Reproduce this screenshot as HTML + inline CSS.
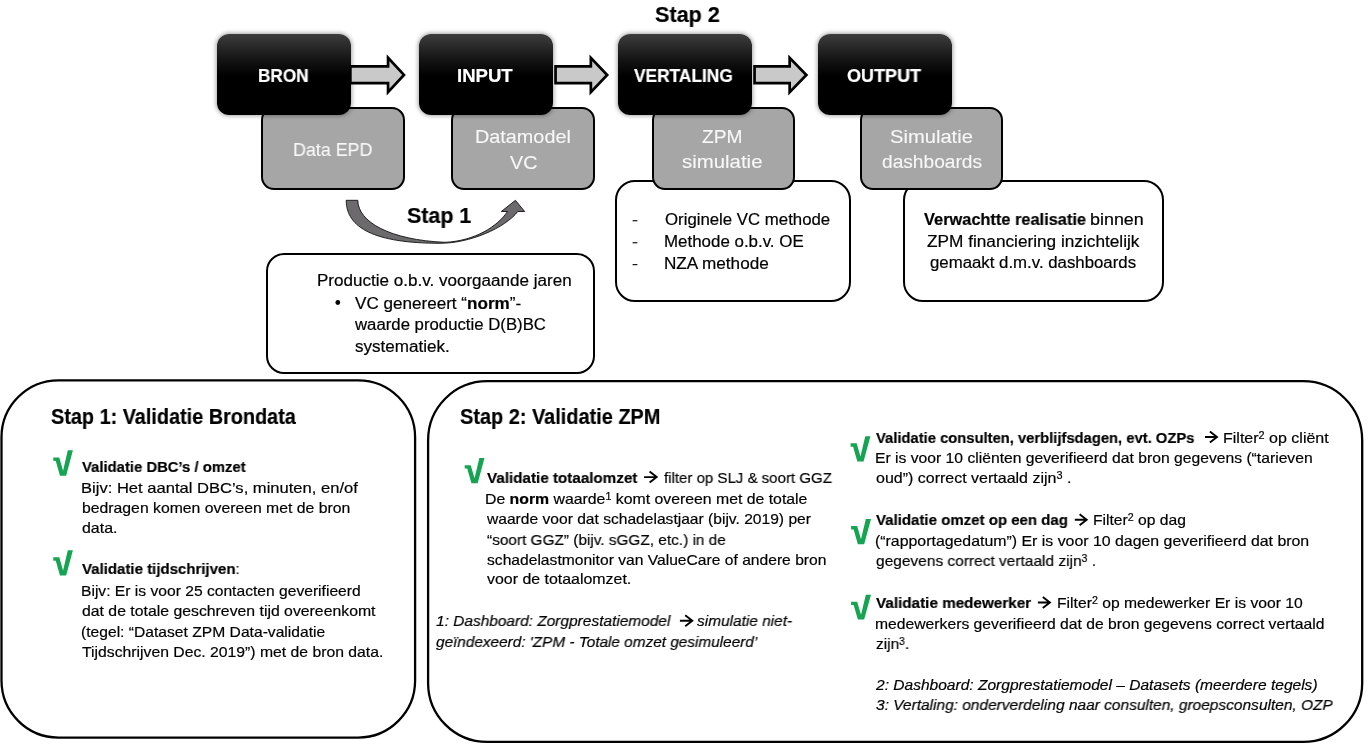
<!DOCTYPE html><html><head><meta charset="utf-8"><style>
*{margin:0;padding:0;box-sizing:border-box}
html,body{width:1368px;height:752px;overflow:hidden;background:#fff}
body{position:relative;font-family:"Liberation Sans",sans-serif;color:#000}
.t{position:absolute;white-space:nowrap;line-height:1;transform-origin:0 0;will-change:transform;-webkit-text-stroke:0.2px currentColor}
.b{font-weight:bold}
.i{font-style:italic}
.w{color:#fff}
.g{color:#f8f8f8;-webkit-text-stroke:0.1px currentColor}
.t b{font-weight:bold}
.t sup{font-size:68%;vertical-align:0;position:relative;top:-0.36em;line-height:0}
.bx{position:absolute;border-radius:12px;background:linear-gradient(#3d3d3d 0%,#161616 30%,#000 52%,#000 100%);box-shadow:0 0 4px 1px rgba(0,0,0,.35)}
.gb{position:absolute;border-radius:13px;background:#a6a6a6;border:2.2px solid #000}
.wb{position:absolute;background:#fff;border:2.2px solid #000}
svg{position:absolute;left:0;top:0}
</style></head><body>
<svg class="shape" width="1368" height="752" viewBox="0 0 1368 752">
<rect x="1.5" y="380.3" width="413.6" height="357.3" rx="57" ry="57" fill="none" stroke="#000" stroke-width="2.3"/>
<rect x="428.1" y="381.2" width="934.1" height="360.7" rx="59" ry="59" fill="none" stroke="#000" stroke-width="2.3"/>
<path d="M346.2,200.3 L357.8,200.3 C358,222 390,240 445,242.3 C475,241 498,226 507.5,211.5 L501.3,211.5 L515.4,200.3 L524.7,211.5 L517.8,211.5 C505,228 470,243.3 440,243.3 C375,243.3 346.2,228 346.2,200.3 Z" fill="#6c6a6c" stroke="#111" stroke-width="0.9"/>
</svg>
<div class="wb shape" style="left:266px;top:252.6px;width:329px;height:121px;border-radius:18px"></div>
<div class="wb shape" style="left:615px;top:180px;width:235.5px;height:122px;border-radius:20px"></div>
<div class="wb shape" style="left:903px;top:179.6px;width:260.5px;height:122.4px;border-radius:20px"></div>
<div class="gb shape" style="left:261px;top:107px;width:143.8px;height:83px"></div>
<div class="gb shape" style="left:451px;top:107px;width:143.8px;height:83px"></div>
<div class="gb shape" style="left:651.5px;top:107px;width:143.8px;height:83px"></div>
<div class="gb shape" style="left:859.7px;top:107px;width:143.8px;height:83px"></div>
<div class="bx shape" style="left:217px;top:34.3px;width:133.8px;height:80.4px"></div>
<div class="bx shape" style="left:419px;top:34.3px;width:133.8px;height:80.4px"></div>
<div class="bx shape" style="left:618.2px;top:34.3px;width:133.8px;height:80.4px"></div>
<div class="bx shape" style="left:818.2px;top:34.3px;width:133.8px;height:80.4px"></div>
<svg class="shape" width="1368" height="752" viewBox="0 0 1368 752">
<polygon points="350.35,66.35 388.05,66.35 388.05,57.80 403.98,74.95 388.05,92.10 388.05,83.15 350.35,83.15" fill="#c9c9c9" stroke="#000" stroke-width="2.7" stroke-linejoin="miter"/>
<polygon points="555.55,66.35 590.85,66.35 590.85,57.80 607.18,74.95 590.85,92.10 590.85,83.15 555.55,83.15" fill="#c9c9c9" stroke="#000" stroke-width="2.7" stroke-linejoin="miter"/>
<polygon points="754.55,66.35 789.65,66.35 789.65,57.80 806.38,74.95 789.65,92.10 789.65,83.15 754.55,83.15" fill="#c9c9c9" stroke="#000" stroke-width="2.7" stroke-linejoin="miter"/>
<polygon points="53.30,457.40 59.27,457.40 63.05,470.70 67.83,450.30 72.90,450.30 66.13,475.70 59.97,475.70 55.79,460.90 53.30,460.80" fill="#15a452"/>
<polygon points="53.30,557.27 59.27,557.27 63.05,570.52 67.83,550.20 72.90,550.20 66.13,575.50 59.97,575.50 55.79,560.76 53.30,560.66" fill="#15a452"/>
<polygon points="464.70,465.14 470.73,465.14 474.55,478.34 479.37,458.10 484.50,458.10 477.67,483.30 471.43,483.30 467.21,468.62 464.70,468.52" fill="#15a452"/>
<polygon points="850.60,443.27 856.63,443.27 860.45,456.52 865.27,436.20 870.40,436.20 863.57,461.50 857.33,461.50 853.11,446.76 850.60,446.66" fill="#15a452"/>
<polygon points="851.10,526.00 857.16,526.00 861.00,539.30 865.85,518.90 871.00,518.90 864.13,544.30 857.87,544.30 853.63,529.50 851.10,529.40" fill="#15a452"/>
<polygon points="851.10,601.70 857.16,601.70 861.00,614.64 865.85,594.79 871.00,594.79 864.13,619.50 857.87,619.50 853.63,605.10 851.10,605.01" fill="#15a452"/>
<path d="M644.10,477.10 H656.40 M649.60,471.60 L656.70,477.10 L649.60,482.60" stroke="#000" stroke-width="1.9" fill="none"/>
<path d="M679.90,620.70 H692.00 M685.20,615.20 L692.30,620.70 L685.20,626.20" stroke="#000" stroke-width="1.9" fill="none"/>
<path d="M1205.00,437.00 H1216.70 M1209.90,431.50 L1217.00,437.00 L1209.90,442.50" stroke="#000" stroke-width="1.9" fill="none"/>
<path d="M1074.80,519.70 H1086.40 M1079.60,514.20 L1086.70,519.70 L1079.60,525.20" stroke="#000" stroke-width="1.9" fill="none"/>
<path d="M1037.90,602.50 H1049.60 M1042.80,597.00 L1049.90,602.50 L1042.80,608.00" stroke="#000" stroke-width="1.9" fill="none"/>
<circle cx="337.8" cy="302.5" r="2.4" fill="#000"/>
<rect x="632.6" y="220.2" width="4.8" height="1.1" fill="#000"/>
<rect x="632.6" y="242.2" width="4.8" height="1.1" fill="#000"/>
<rect x="632.6" y="264.1" width="4.8" height="1.1" fill="#000"/>
</svg>
<div class="t b" id="t0" style="left:654.73px;top:3.61px;font-size:22.38px;transform:scaleX(0.9644)">Stap 2</div>
<div class="t b w" id="t1" style="left:258.21px;top:66.62px;font-size:18.17px;transform:scaleX(0.9474)">BRON</div>
<div class="t b w" id="t2" style="left:457.26px;top:66.62px;font-size:18.17px;transform:scaleX(1.0227)">INPUT</div>
<div class="t b w" id="t3" style="left:634.31px;top:66.62px;font-size:18.17px;transform:scaleX(0.9534)">VERTALING</div>
<div class="t b w" id="t4" style="left:846.80px;top:66.62px;font-size:18.17px;transform:scaleX(0.9921)">OUTPUT</div>
<div class="t g" id="t5" style="left:293.15px;top:140.66px;font-size:18.6px;transform:scaleX(0.9606)">Data EPD</div>
<div class="t g" id="t6" style="left:474.92px;top:127.60px;font-size:18.31px;transform:scaleX(1.0829)">Datamodel</div>
<div class="t g" id="t7" style="left:509.52px;top:153.70px;font-size:18.31px;transform:scaleX(1.0784)">VC</div>
<div class="t g" id="t8" style="left:701.80px;top:127.55px;font-size:18.31px;transform:scaleX(1.0480)">ZPM</div>
<div class="t g" id="t9" style="left:682.04px;top:152.80px;font-size:18.31px;transform:scaleX(1.1146)">simulatie</div>
<div class="t g" id="t10" style="left:890.26px;top:127.55px;font-size:18.31px;transform:scaleX(1.1018)">Simulatie</div>
<div class="t g" id="t11" style="left:882.48px;top:152.80px;font-size:18.31px;transform:scaleX(1.0464)">dashboards</div>
<div class="t b" id="t12" style="left:406.69px;top:204.50px;font-size:21.8px;transform:scaleX(0.9820)">Stap 1</div>
<div class="t " id="t13" style="left:317.18px;top:272.00px;font-size:16.42px;transform:scaleX(1.0392)">Productie o.b.v. voorgaande jaren</div>
<div class="t " id="t14" style="left:354.71px;top:294.80px;font-size:16.42px;transform:scaleX(1.0413)">VC genereert “<b>norm</b>”-</div>
<div class="t " id="t15" style="left:354.70px;top:316.40px;font-size:16.42px;transform:scaleX(1.0214)">waarde productie D(B)BC</div>
<div class="t " id="t16" style="left:354.70px;top:337.90px;font-size:16.42px;transform:scaleX(1.0398)">systematiek.</div>
<div class="t " id="t17" style="left:665.19px;top:211.52px;font-size:16.57px;transform:scaleX(1.0135)">Originele VC methode</div>
<div class="t " id="t18" style="left:664.19px;top:233.52px;font-size:16.57px;transform:scaleX(1.0206)">Methode o.b.v. OE</div>
<div class="t " id="t19" style="left:664.18px;top:255.67px;font-size:16.57px;transform:scaleX(1.0339)">NZA methode</div>
<div class="t b" id="t20" style="left:924.20px;top:211.40px;font-size:16.42px;transform:scaleX(0.9976)">Verwachtte realisatie</div>
<div class="t " id="t21" style="left:1089.96px;top:211.40px;font-size:16.42px;transform:scaleX(1.0912)">binnen</div>
<div class="t " id="t22" style="left:927.19px;top:232.80px;font-size:16.42px;transform:scaleX(1.0495)">ZPM financiering inzichtelijk</div>
<div class="t " id="t23" style="left:930.00px;top:254.30px;font-size:16.42px;transform:scaleX(1.0239)">gemaakt d.m.v. dashboards</div>
<div class="t b" id="t24" style="left:50.63px;top:405.74px;font-size:21.22px;transform:scaleX(0.9351)">Stap 1: Validatie Brondata</div>
<div class="t b" id="t25" style="left:81.58px;top:458.64px;font-size:15.55px;transform:scaleX(0.9547)">Validatie DBC’s / omzet</div>
<div class="t " id="t26" style="left:80.56px;top:479.64px;font-size:15.55px;transform:scaleX(1.0654)">Bijv: Het aantal DBC’s, minuten, en/of</div>
<div class="t " id="t27" style="left:81.58px;top:500.14px;font-size:15.55px;transform:scaleX(1.0144)">bedragen komen overeen met de bron</div>
<div class="t " id="t28" style="left:81.55px;top:519.94px;font-size:15.55px;transform:scaleX(1.0252)">data.</div>
<div class="t " id="t29" style="left:81.58px;top:561.04px;font-size:15.55px;transform:scaleX(0.9657)"><b>Validatie tijdschrijven</b>:</div>
<div class="t " id="t30" style="left:80.59px;top:582.84px;font-size:15.55px;transform:scaleX(1.0051)">Bijv: Er is voor 25 contacten geverifieerd</div>
<div class="t " id="t31" style="left:81.59px;top:603.14px;font-size:15.55px;transform:scaleX(1.0167)">dat de totale geschreven tijd overeenkomt</div>
<div class="t " id="t32" style="left:80.59px;top:623.64px;font-size:15.55px;transform:scaleX(1.0058)">(tegel: “Dataset ZPM Data-validatie</div>
<div class="t " id="t33" style="left:81.59px;top:643.69px;font-size:15.55px;transform:scaleX(1.0128)">Tijdschrijven Dec. 2019”) met de bron data.</div>
<div class="t b" id="t34" style="left:459.99px;top:405.74px;font-size:21.22px;transform:scaleX(0.9390)">Stap 2: Validatie ZPM</div>
<div class="t b" id="t35" style="left:486.79px;top:469.54px;font-size:15.55px;transform:scaleX(0.9780)">Validatie totaalomzet</div>
<div class="t " id="t36" style="left:664.38px;top:469.54px;font-size:15.55px;transform:scaleX(0.9667)">filter op SLJ &amp; soort GGZ</div>
<div class="t " id="t37" style="left:485.49px;top:490.64px;font-size:15.55px;transform:scaleX(1.0171)">De <b>norm</b> waarde<sup>1</sup> komt overeen met de totale</div>
<div class="t " id="t38" style="left:486.50px;top:511.04px;font-size:15.55px;transform:scaleX(1.0031)">waarde voor dat schadelastjaar (bijv. 2019) per</div>
<div class="t " id="t39" style="left:486.50px;top:531.54px;font-size:15.55px;transform:scaleX(0.9884)">“soort GGZ” (bijv. sGGZ, etc.) in de</div>
<div class="t " id="t40" style="left:486.50px;top:551.69px;font-size:15.55px;transform:scaleX(1.0053)">schadelastmonitor van ValueCare of andere bron</div>
<div class="t " id="t41" style="left:486.51px;top:571.34px;font-size:15.55px;transform:scaleX(1.0243)">voor de totaalomzet.</div>
<div class="t i" id="t42" style="left:435.90px;top:613.14px;font-size:15.55px;transform:scaleX(0.9933)">1: Dashboard: Zorgprestatiemodel</div>
<div class="t i" id="t43" style="left:696.90px;top:613.14px;font-size:15.55px;transform:scaleX(0.9917)">simulatie niet-</div>
<div class="t i" id="t44" style="left:435.90px;top:633.64px;font-size:15.55px;transform:scaleX(0.9865)">geïndexeerd: 'ZPM - Totale omzet gesimuleerd’</div>
<div class="t b" id="t45" style="left:876.00px;top:429.69px;font-size:15.55px;transform:scaleX(0.9499)">Validatie consulten, verblijfsdagen, evt. OZPs</div>
<div class="t " id="t46" style="left:1223.47px;top:429.69px;font-size:15.55px;transform:scaleX(1.0296)">Filter<sup>2</sup> op cliënt</div>
<div class="t " id="t47" style="left:875.00px;top:449.64px;font-size:15.55px;transform:scaleX(1.0088)">Er is voor 10 cliënten geverifieerd dat bron gegevens (“tarieven</div>
<div class="t " id="t48" style="left:876.00px;top:470.34px;font-size:15.55px;transform:scaleX(1.0286)">oud”) correct vertaald zijn<sup>3</sup> .</div>
<div class="t b" id="t49" style="left:876.00px;top:512.14px;font-size:15.55px;transform:scaleX(0.9658)">Validatie omzet op een dag</div>
<div class="t " id="t50" style="left:1092.78px;top:512.14px;font-size:15.55px;transform:scaleX(1.0067)">Filter<sup>2</sup> op dag</div>
<div class="t " id="t51" style="left:875.00px;top:532.94px;font-size:15.55px;transform:scaleX(1.0212)">(“rapportagedatum”) Er is voor 10 dagen geverifieerd dat bron</div>
<div class="t " id="t52" style="left:876.00px;top:553.04px;font-size:15.55px;transform:scaleX(0.9955)">gegevens correct vertaald zijn<sup>3</sup> .</div>
<div class="t b" id="t53" style="left:876.00px;top:594.94px;font-size:15.55px;transform:scaleX(0.9811)">Validatie medewerker</div>
<div class="t " id="t54" style="left:1056.59px;top:594.94px;font-size:15.55px;transform:scaleX(1.0091)">Filter<sup>2</sup> op medewerker Er is voor 10</div>
<div class="t " id="t55" style="left:875.00px;top:615.69px;font-size:15.55px;transform:scaleX(1.0099)">medewerkers geverifieerd dat de bron gegevens correct vertaald</div>
<div class="t " id="t56" style="left:876.00px;top:636.24px;font-size:15.55px;transform:scaleX(0.9885)">zijn<sup>3</sup>.</div>
<div class="t i" id="t57" style="left:876.00px;top:676.69px;font-size:15.55px;transform:scaleX(1.0000)">2: Dashboard: Zorgprestatiemodel – Datasets (meerdere tegels)</div>
<div class="t i" id="t58" style="left:876.00px;top:696.64px;font-size:15.55px;transform:scaleX(0.9948)">3: Vertaling: onderverdeling naar consulten, groepsconsulten, OZP</div>
</body></html>
